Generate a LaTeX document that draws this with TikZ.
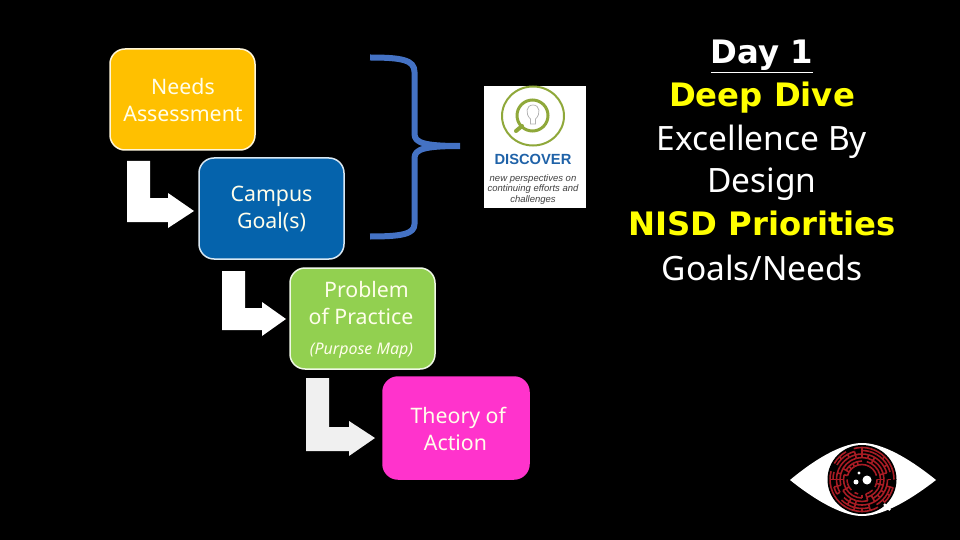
\documentclass[tikz,border=0pt]{standalone}
\usepackage{fontspec}
\usetikzlibrary{calc}
\setmainfont{DejaVu Sans}
\newfontfamily\boxfont{Noto Sans}
\newfontfamily\headfont{Noto Sans}
\newfontfamily\headbold{DejaVu Sans}
\newfontfamily\logofont{Liberation Sans}
\definecolor{needs}{HTML}{FFC000}
\definecolor{goal}{HTML}{0563AC}
\definecolor{prob}{HTML}{92D050}
\definecolor{theory}{HTML}{FF33CC}
\definecolor{bracec}{HTML}{4472C4}
\definecolor{hiyellow}{HTML}{FFFF00}
\definecolor{logogreen}{HTML}{8FA83A}
\definecolor{logoblue}{HTML}{1F62A8}
\definecolor{mazered}{HTML}{A81C24}
\tikzset{
  stepbox/.style={draw=#1,rounded corners=15pt,line width=1.5pt,inner sep=0pt},
  boxtext/.style={text=white!92!yellow,align=center,font=\boxfont\fontsize{21.3}{27}\selectfont},
  headline/.style={align=center,text=white,anchor=base,inner sep=0pt},
  headreg/.style={headline,font=\headfont\fontsize{33.5}{36}\selectfont},
  headbig/.style={headline,font=\headbold\bfseries\fontsize{32.3}{36}\selectfont},
  mazeline/.style={mazered,line width=1.6pt},
}
\begin{document}
\begin{tikzpicture}[x=1pt,y=-1pt]
\useasboundingbox (0,0) rectangle (960,540);
\fill[black] (0,0) rectangle (960,540);
% boxes
\node[stepbox=white!85!needs,fill=needs,minimum width=145pt,minimum height=101pt] (needsbox) at (182.5,99.5) {};
\node[stepbox=white!85!goal,fill=goal,minimum width=145pt,minimum height=101pt] (goalbox) at (271.5,208.5) {};
\node[stepbox=white!85!prob,fill=prob,minimum width=145pt,minimum height=101pt] (probbox) at (362.5,318.5) {};
\node[stepbox=theory,fill=theory,minimum width=146pt,minimum height=102pt] (theorybox) at (456,428) {};
% box text
\node[boxtext] (t1) at (183,100) {Needs\\Assessment};
\node[boxtext] (t2) at (271.5,209) {Campus\\Goal(s)};
\node[boxtext] (t3) at (361,303) {\ \ Problem\\of Practice};
\node[text=white!92!yellow,font=\boxfont\itshape\fontsize{16}{18}\selectfont] (t3b) at (361.5,351) {(Purpose Map)};
\node[boxtext] (t4) at (455.5,429) {\ Theory of\\Action};
% elbows
\fill[white] (127,161) -- (150,161) -- (150,198) -- (168,198) -- (168,193) -- (194,211) -- (168,228) -- (168,222) -- (127,222) -- cycle;
\fill[white] (222,271) -- (245,271) -- (245,308) -- (262,308) -- (262,302) -- (286,319) -- (262,336) -- (262,330) -- (222,330) -- cycle;
\fill[white!94!black] (306,378) -- (329,378) -- (329,427) -- (349,427) -- (349,421) -- (375,438) -- (349,456) -- (349,451) -- (306,451) -- cycle;
% brace
\draw[bracec,line width=6pt,line join=bevel] (370,57.5) .. controls (402,57.5) and (414.5,60) .. (414.5,72) -- (414.5,134) .. controls (414.5,143) and (425,146) .. (460,146) .. controls (425,146) and (414.5,149) .. (414.5,158) -- (414.5,224) .. controls (414.5,234) and (402,236.5) .. (370,236.5);
% discover card
\fill[white] (484,86) rectangle (586,208);
\draw[logogreen,line width=2pt] (533,116) ellipse (31pt and 29.5pt);
\draw[logogreen,line width=3pt] (532.5,115.5) circle (15.5pt);
\draw[logogreen,line width=4pt,line cap=round] (522,126) -- (516,131);
\draw[gray!60,line width=.7pt] (530.5,124) -- (530.5,119) .. controls (525,114) and (526,105) .. (533,105) .. controls (540,105) and (541,114) .. (535.5,119) -- (535.5,124) -- cycle;
\node[logoblue,font=\logofont\bfseries\fontsize{14.7}{15}\selectfont,inner sep=0pt] (dtitle) at (533,159.5) {DISCOVER};
\node[black!75,align=center,font=\logofont\itshape\fontsize{9.5}{10.6}\selectfont,inner sep=0pt] (dsub) at (533,189.5) {new perspectives on\\continuing efforts and\\challenges};
% eye
\path[fill=white] (790,480) .. controls (820,455) and (845,443) .. (862,443) .. controls (880,443) and (905,455) .. (936,480) .. controls (905,504) and (880,516) .. (862,516) .. controls (845,516) and (820,504) .. (790,480) -- cycle;
\fill[black] (862,479.5) circle (34.5pt);
\pgfmathsetseed{7}
\foreach \r in {15,18.5,22,25.5,29,32}{
  \foreach \a in {0,15,...,345}{
    \pgfmathsetmacro{\coin}{rnd}
    \pgfmathsetmacro{\spoke}{rnd}
    \ifdim\coin pt<0.8pt
      \draw[mazeline] ($(862,479.5)+(\a:\r pt)$) arc[start angle=\a,delta angle=15,radius=\r pt];
    \fi
    \ifdim\r pt<31pt
      \ifdim\spoke pt<0.45pt
        \draw[mazeline] ($(862,479.5)+(\a:\r pt)$) -- ($(862,479.5)+(\a:\r pt+3.5pt)$);
      \fi
    \fi
  }
}
\fill[black] (862,479.5) circle (13.5pt);
\fill[white] (867,480) circle (4.5pt);
\fill[white] (856,482) circle (2.5pt);
\fill[white] (859,473) circle (1.7pt);
\draw[white,line width=2.2pt] (884,504) -- (890,510);
% heading
\node[headbig] (h1) at (762,64) {\underline{Day 1}};
\node[headbig,text=hiyellow] (h2) at (762,107) {Deep Dive};
\node[headreg] (h3) at (762,151) {Excellence By};
\node[headreg] (h4) at (762,193) {Design};
\node[headbig,text=hiyellow] (h5) at (762,235) {NISD Priorities};
\node[headreg] (h6) at (762,280) {Goals/Needs};
\end{tikzpicture}
\end{document}
